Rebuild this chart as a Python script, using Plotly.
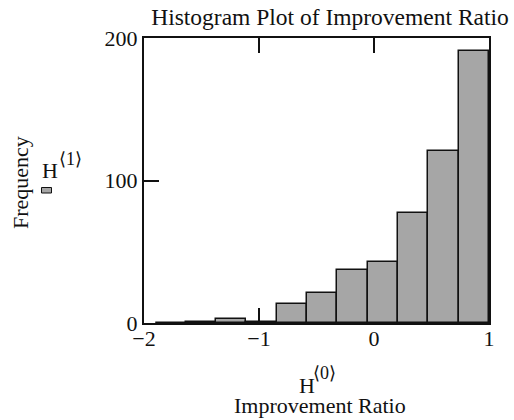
import plotly.graph_objects as go

# Histogram bins (centres) and counts
bin_centers = [-1.768, -1.505, -1.241, -0.977, -0.714, -0.450, -0.186, 0.077, 0.341, 0.605, 0.868]
bin_width = 0.2636
counts = [0, 1, 3, 1, 13, 21, 37, 43, 77, 121, 191]

x_ticks = [-2, -1, 0, 1]
y_ticks = [0, 100, 200]

title_text = "Histogram Plot of Improvement Ratio"
x_title = "Improvement Ratio"
y_title = "Frequency"

FONT = "Liberation Serif"
INK = "#111111"
BAR = "#a6a6a6"

fig = go.Figure()
fig.add_trace(go.Bar(
    x=bin_centers, y=counts, width=[bin_width] * len(counts),
    marker=dict(color=BAR, line=dict(color=INK, width=1.5)),
    showlegend=False,
))

W, H = 514, 420
L, R, T, B = 144, 25, 38, 97
PW, PH = W - L - R, H - T - B

def px(xp):
    return (xp - L) / PW

def py(yp):
    return (H - B - yp) / PH

fig.update_layout(
    width=W, height=H,
    margin=dict(l=L, r=R, t=T, b=B),
    paper_bgcolor="white", plot_bgcolor="white",
    font=dict(family=FONT, size=22, color=INK),
    title=dict(text=title_text, x=px(330), xref="paper", xanchor="center",
               y=1 - 17 / H, yanchor="middle", font=dict(size=23.5)),
    bargap=0,
    showlegend=False,
    xaxis=dict(range=[-2, 1], tickvals=x_ticks, ticks="inside", ticklen=15,
               tickwidth=1.5, tickcolor=INK, showline=True, linewidth=2,
               linecolor=INK, mirror="allticks", showgrid=False,
               zeroline=False, layer="below traces", tickfont=dict(size=22),
               ticklabelstandoff=-5),
    yaxis=dict(range=[0, 200], tickvals=y_ticks, ticks="inside", ticklen=15,
               tickwidth=1.5, tickcolor=INK, showline=True, linewidth=2,
               linecolor=INK, mirror=True, showgrid=False,
               zeroline=False, layer="below traces", tickfont=dict(size=22)),
)

annotations = [
    dict(text=y_title, x=px(20), y=py(183), textangle=-90, size=22),
    dict(text="H", x=px(50), y=py(170), size=22),
    dict(text="\u27e81\u27e9", x=px(70.5), y=py(158.5), size=18),
    dict(text="H", x=px(306.5), y=py(385), size=22),
    dict(text="\u27e80\u27e9", x=px(324), y=py(373.5), size=18),
    dict(text=x_title, x=px(320), y=py(405), size=22),
]
for a in annotations:
    size = a.pop("size")
    fig.add_annotation(xref="paper", yref="paper", showarrow=False,
                       xanchor="center", yanchor="middle",
                       font=dict(family=FONT, size=size, color=INK), **a)

# small series swatch below the H<1> label (decoration)
fig.add_shape(type="rect", xref="paper", yref="paper",
              x0=px(41.5), x1=px(51.5), y0=py(193), y1=py(187.5),
              fillcolor=BAR, line=dict(color=INK, width=1))

fig.write_html("out.html")
